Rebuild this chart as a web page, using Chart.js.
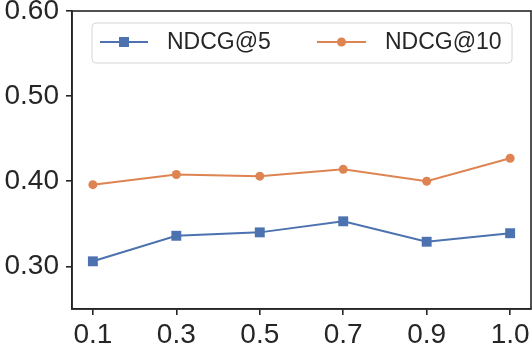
<!DOCTYPE html>
<html lang="en">
<head>
    <meta charset="UTF-8">
    <title>NDCG</title>
    <script src="https://cdn.jsdelivr.net/npm/chart.js"></script>
    <style>
        html, body { margin: 0; padding: 0; background: #fff; overflow: hidden; }
        canvas { display: block; }
    </style>
</head>
<body>
    <canvas id="grafico" width="532" height="350"></canvas>

    <script>
        // dados do gráfico
        const categorias = ['0.1', '0.3', '0.5', '0.7', '0.9', '1.0'];
        const ndcg5 = [0.306, 0.336, 0.340, 0.353, 0.329, 0.339];
        const ndcg10 = [0.396, 0.408, 0.406, 0.414, 0.400, 0.427];
        const yTicks = [0.30, 0.40, 0.50, 0.60];

        const escuro = '#262626';
        const azul = '#4C72B0';
        const laranja = '#DD8452';
        const fonte = '"Liberation Sans", Arial, sans-serif';

        // moldura completa + legenda dentro do gráfico
        const moldura = {
            id: 'moldura',
            afterDraw(chart) {
                const ctx = chart.ctx;
                const a = chart.chartArea;
                ctx.save();
                ctx.strokeStyle = escuro;
                ctx.lineWidth = 1.6;
                ctx.strokeRect(a.left, a.top, a.right - a.left, a.bottom - a.top);

                // caixa da legenda
                const bx = 92, by = 23, bw = 420, bh = 40, r = 4;
                ctx.beginPath();
                ctx.roundRect(bx, by, bw, bh, r);
                ctx.fillStyle = 'rgba(255,255,255,0.85)';
                ctx.fill();
                ctx.strokeStyle = '#d6d6d6';
                ctx.lineWidth = 1;
                ctx.stroke();

                const yc = 42;
                const itens = [
                    { x0: 100, x1: 148, txt: 0, cor: azul, forma: 'rect' },
                    { x0: 317, x1: 366, txt: 1, cor: laranja, forma: 'circle' }
                ];
                itens.forEach(it => {
                    ctx.strokeStyle = it.cor;
                    ctx.lineWidth = 2;
                    ctx.beginPath();
                    ctx.moveTo(it.x0, yc);
                    ctx.lineTo(it.x1, yc);
                    ctx.stroke();
                    ctx.fillStyle = it.cor;
                    const cx = (it.x0 + it.x1) / 2;
                    if (it.forma === 'rect') {
                        ctx.fillRect(cx - 5, yc - 5, 10, 10);
                    } else {
                        ctx.beginPath();
                        ctx.arc(cx, yc, 4.5, 0, Math.PI * 2);
                        ctx.fill();
                    }
                    ctx.fillStyle = escuro;
                    ctx.font = '23px ' + fonte;
                    ctx.textBaseline = 'middle';
                    ctx.textAlign = 'left';
                    ctx.fillText(chart.data.datasets[it.txt].label, it.x1 + 19, yc + 1);
                });
                ctx.restore();
            }
        };

        const ctx = document.getElementById('grafico').getContext('2d');
        new Chart(ctx, {
            type: 'line',
            data: {
                datasets: [
                    {
                        label: 'NDCG@5',
                        data: ndcg5.map((v, i) => ({ x: i, y: v })),
                        borderColor: azul,
                        backgroundColor: azul,
                        borderWidth: 2,
                        pointStyle: 'rect',
                        pointRadius: 7,
                        pointBorderWidth: 0,
                        tension: 0
                    },
                    {
                        label: 'NDCG@10',
                        data: ndcg10.map((v, i) => ({ x: i, y: v })),
                        borderColor: laranja,
                        backgroundColor: laranja,
                        borderWidth: 2,
                        pointStyle: 'circle',
                        pointRadius: 4.5,
                        pointBorderWidth: 0,
                        tension: 0
                    }
                ]
            },
            options: {
                responsive: false,
                animation: false,
                devicePixelRatio: 1,
                layout: { autoPadding: false, padding: { top: 11, right: 1, left: 0, bottom: 0 } },
                plugins: {
                    legend: { display: false },
                    tooltip: { enabled: false }
                },
                scales: {
                    x: {
                        type: 'linear',
                        min: -0.25,
                        max: categorias.length - 0.75,
                        afterBuildTicks: s => { s.ticks = categorias.map((c, i) => ({ value: i })); },
                        afterFit: s => { s.height = 41; s.paddingLeft = 0; s.paddingRight = 0; },
                        ticks: {
                            callback: v => categorias[v],
                            color: escuro,
                            font: { family: fonte, size: 28 },
                            padding: 3,
                            maxRotation: 0,
                            autoSkip: false
                        },
                        grid: { display: true, drawOnChartArea: false, drawTicks: true, tickLength: 6, color: escuro, lineWidth: 1.6 },
                        border: { display: true, color: escuro, width: 1.6 }
                    },
                    y: {
                        min: 0.25,
                        max: 0.60,
                        afterBuildTicks: s => { s.ticks = yTicks.map(v => ({ value: v })); },
                        afterFit: s => { s.width = 72; s.paddingTop = 0; s.paddingBottom = 0; },
                        ticks: {
                            callback: v => v.toFixed(2),
                            color: escuro,
                            font: { family: fonte, size: 28 },
                            padding: 7
                        },
                        grid: { display: true, drawOnChartArea: false, drawTicks: true, tickLength: 6, color: escuro, lineWidth: 1.6 },
                        border: { display: true, color: escuro, width: 1.6 }
                    }
                }
            },
            plugins: [moldura]
        });
    </script>
</body>
</html>
